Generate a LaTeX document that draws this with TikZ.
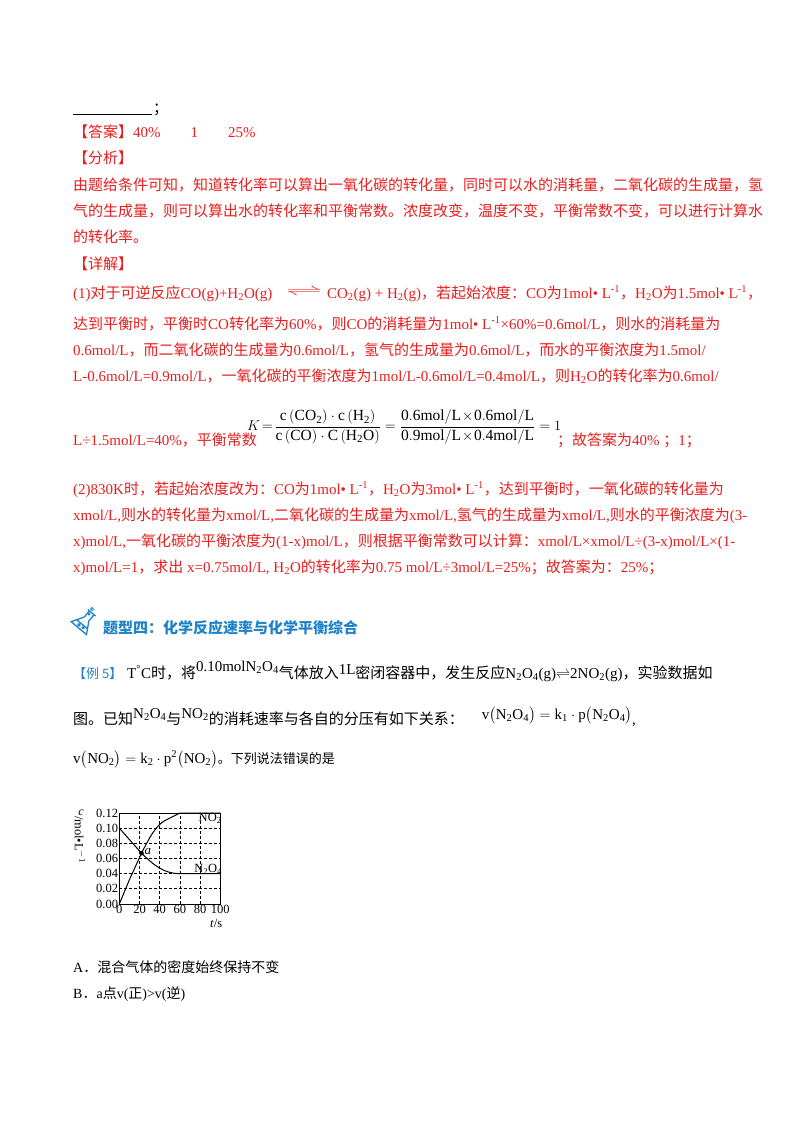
\documentclass[tikz,border=0pt]{standalone}
\usepackage{fontspec}
\usepackage{amsmath,graphicx}
\setmainfont{Liberation Serif}
\newfontfamily\cjk{Noto Sans CJK SC}
\definecolor{ansred}{RGB}{232,30,30}
\definecolor{headblue}{RGB}{30,130,200}
\tikzset{
  red line/.style={anchor=base west, inner sep=0pt, text=ansred, font=\fontsize{15}{18}\selectfont},
  black line/.style={anchor=base west, inner sep=0pt, font=\fontsize{15}{18}\selectfont},
  tick/.style={inner sep=1pt, font=\fontsize{12.5}{13}\selectfont},
  grid line/.style={densely dashed, line width=0.8pt},
  curve/.style={line width=1pt}
}
\begin{document}
\begin{tikzpicture}[x=1pt,y=-1pt]
\useasboundingbox (0,0) rectangle (800,1132);

% answer and analysis
\draw (73,114) -- (152,114);
\node[black line] (semi) at (153,113) {\cjk ；};
\node[red line] (ans) at (73,137) {{\cjk 【答案】}40\%\hspace{2em}1\hspace{2em}25\%};
\node[red line] (ana) at (73,163) {\cjk 【分析】};
\node[red line] (t1) at (73,190) {\cjk 由题给条件可知，知道转化率可以算出一氧化碳的转化量，同时可以水的消耗量，二氧化碳的生成量，氢};
\node[red line] (t2) at (73,216) {\cjk 气的生成量，则可以算出水的转化率和平衡常数。浓度改变，温度不变，平衡常数不变，可以进行计算水};
\node[red line] (t3) at (73,242) {\cjk 的转化率。};
\node[red line] (det) at (73,269) {\cjk 【详解】};

% part (1)
\node[red line] (p1) at (73,298) {(1){\cjk 对于可逆反应}CO(g)+H\textsubscript{2}O(g)\hspace{0.9em}\raisebox{3pt}{\scalebox{2.6}[1]{$\rightleftharpoons$}}\hspace{0.3em}CO\textsubscript{2}(g) + H\textsubscript{2}(g){\cjk ，若起始浓度：}CO{\cjk 为}1mol• L\textsuperscript{-1}{\cjk ，}H\textsubscript{2}O{\cjk 为}1.5mol• L\textsuperscript{-1}{\cjk ，}};
\node[red line] (p2) at (73,329) {{\cjk 达到平衡时，平衡时}CO{\cjk 转化率为}60\%{\cjk ，则}CO{\cjk 的消耗量为}1mol• L\textsuperscript{-1}×60\%=0.6mol/L{\cjk ，则水的消耗量为}};
\node[red line] (p3) at (73,355) {0.6mol/L{\cjk ，而二氧化碳的生成量为}0.6mol/L{\cjk ，氢气的生成量为}0.6mol/L{\cjk ，而水的平衡浓度为}1.5mol/};
\node[red line] (p4) at (73,381) {L-0.6mol/L=0.9mol/L{\cjk ，一氧化碳的平衡浓度为}1mol/L-0.6mol/L=0.4mol/L{\cjk ，则}H\textsubscript{2}O{\cjk 的转化率为}0.6mol/};
\node[red line] (p5) at (73,445) {L÷1.5mol/L=40\%{\cjk ，平衡常数}};
\node[black line, anchor=west] (kf) at (247,427) {\fontsize{15.5}{19}\selectfont $K\!=\!\dfrac{\mathrm{c}\left(\mathrm{CO_2}\right)\cdot\mathrm{c}\left(\mathrm{H_2}\right)}{\mathrm{c}\left(\mathrm{CO}\right)\cdot\mathrm{C}\left(\mathrm{H_2O}\right)}=\dfrac{\mathrm{0.6mol/L\!\times\!0.6mol/L}}{\mathrm{0.9mol/L\!\times\!0.4mol/L}}=1$};
\node[red line] (p6) at (557,445) {{\cjk ；故答案为}40\% {\cjk ；}1{\cjk ；}};

% part (2)
\node[red line] (q1) at (73,494) {(2)830K{\cjk 时，若起始浓度改为：}CO{\cjk 为}1mol• L\textsuperscript{-1}{\cjk ，}H\textsubscript{2}O{\cjk 为}3mol• L\textsuperscript{-1}{\cjk ，达到平衡时，一氧化碳的转化量为}};
\node[red line] (q2) at (73,520) {xmol/L,{\cjk 则水的转化量为}xmol/L,{\cjk 二氧化碳的生成量为}xmol/L,{\cjk 氢气的生成量为}xmol/L,{\cjk 则水的平衡浓度为}(3-};
\node[red line] (q3) at (73,546) {x)mol/L,{\cjk 一氧化碳的平衡浓度为}(1-x)mol/L{\cjk ，则根据平衡常数可以计算：}xmol/L×xmol/L÷(3-x)mol/L×(1-};
\node[red line] (q4) at (73,572) {x)mol/L=1{\cjk ，求出} x=0.75mol/L, H\textsubscript{2}O{\cjk 的转化率为}0.75 mol/L÷3mol/L=25\%{\cjk ；故答案为：}25\%{\cjk ；}};

% heading with flask icon
\begin{scope}[headblue, line width=1.3pt, shift={(84,622)}, rotate=-40]
  \draw (-3,-12) -- (-3,-4) -- (-10,8) -- (10,8) -- (3,-4) -- (3,-12);
  \draw (-5,-12) -- (5,-12);
  \draw (-7,3) -- (7,3);
  \draw (-2,5.5) circle (1.2) (3,5) circle (1);
\end{scope}
\draw[headblue, line width=0.8pt] (92,609) circle (1.5) (89,614) circle (1);
\node[anchor=base west, inner sep=0pt, text=headblue, font=\fontsize{15}{18}\selectfont\cjk\bfseries] (head) at (103,633) {题型四：化学反应速率与化学平衡综合};

% example 5
\node[anchor=base west, inner sep=0pt, text=headblue, font=\fontsize{13}{16}\selectfont] (ex) at (73,678) {\cjk 【例 5】};
\node[black line] (e1) at (127,678) {T\textsuperscript{°}C{\cjk 时，将}\raisebox{7pt}{0.10molN\textsubscript{2}O\textsubscript{4}}{\cjk 气体放入}\raisebox{4pt}{1L}{\cjk 密闭容器中，发生反应}N\textsubscript{2}O\textsubscript{4}(g)$\rightleftharpoons$2NO\textsubscript{2}(g){\cjk ，实验数据如}};
\node[black line] (e2) at (73,724) {{\cjk 图。已知}\raisebox{6pt}{N\textsubscript{2}O\textsubscript{4}}{\cjk 与}\raisebox{6pt}{NO\textsubscript{2}}{\cjk 的消耗速率与各自的分压有如下关系：}\hspace{1.2em}\raisebox{5pt}{$\mathrm{v\big(N_2O_4\big)=k_1\cdot p\big(N_2O_4\big)}$},};
\node[black line] (e3) at (73,763) {$\mathrm{v\big(NO_2\big)=k_2\cdot p^2\big(NO_2\big)}${\fontsize{13}{16}\selectfont\cjk 。下列说法错误的是}};

% graph
\begin{scope}[shift={(119.3,904)}, x=1.01pt, y=758.3pt]
  \foreach \t in {20,40,60,80} \draw[grid line] (\t,0) -- (\t,0.12);
  \foreach \c in {0.02,0.04,...,0.101} \draw[grid line] (0,\c) -- (100,\c);
  \draw[line width=1pt] (0,0) rectangle (100,0.12);
  \draw[curve] (0,0) -- (10,0.032) -- (22,0.067) .. controls (30,0.088) and (36,0.103) .. (45,0.11) -- (60,0.12) -- (100,0.12);
  \draw[curve] (0,0.10) -- (22,0.067) .. controls (35,0.05) and (45,0.04) .. (60,0.04) -- (100,0.04);
  \fill (22,0.067) circle (2.3pt);
  \node[anchor=west, tick, font=\fontsize{13}{14}\selectfont\itshape] (apt) at (24,0.069) {a};
  \node[tick] (no2) at (90,0.113) {NO\textsubscript{2}};
  \node[tick] (n2o4) at (88,0.046) {N\textsubscript{2}O\textsubscript{4}};
  \foreach \c/\l in {0/0.00,0.02/0.02,0.04/0.04,0.06/0.06,0.08/0.08,0.10/0.10,0.12/0.12}
    \node[tick, anchor=east] (y\l) at (0,\c) {\l};
  \foreach \t in {0,20,40,60,80,100}
    \node[tick, anchor=north] (x\t) at (\t,0) {\t};
  \node[tick, anchor=north] (tlab) at (96,-0.0185) {\textit{t}/s};
  \node[tick, font=\fontsize{12}{13}\selectfont\itshape] (clab) at (-38,0.121) {c};
  \node[tick, rotate=-90] (ulab) at (-39,0.085) {/mol•L\textsuperscript{$-$1}};
\end{scope}

% choices
\node[black line, font=\fontsize{14}{17}\selectfont] (ca) at (73,972) {A{\cjk ．混合气体的密度始终保持不变}};
\node[black line, font=\fontsize{14}{17}\selectfont] (cb) at (73,998) {B{\cjk ．}a{\cjk 点}v({\cjk 正})>v({\cjk 逆})};
\end{tikzpicture}
\end{document}
